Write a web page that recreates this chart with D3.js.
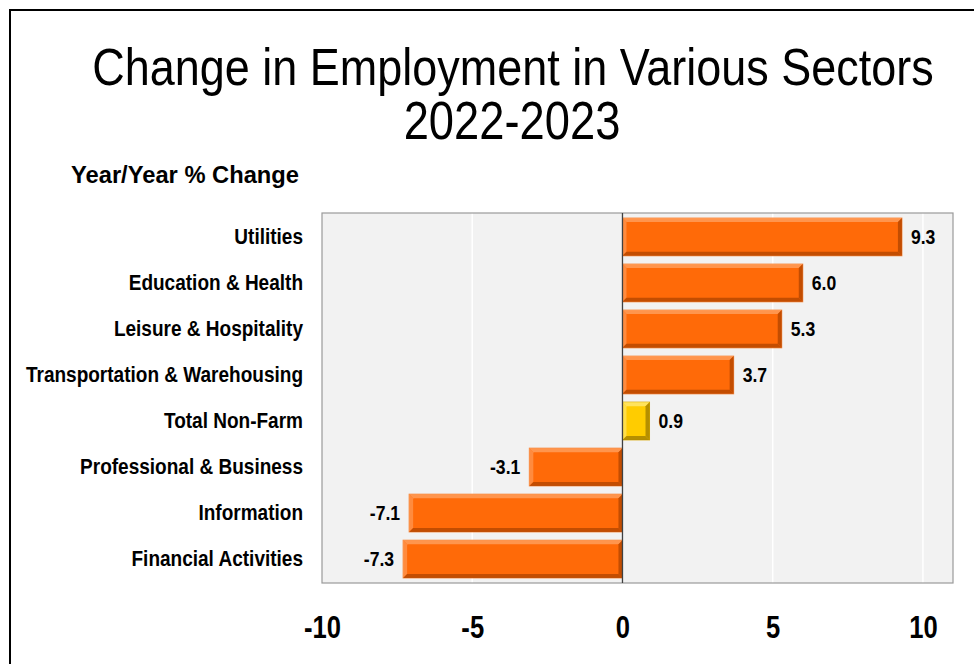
<!DOCTYPE html>
<html>
<head>
<meta charset="utf-8">
<script src="https://cdn.jsdelivr.net/npm/d3@7"></script>
<style>
  html, body { margin: 0; padding: 0; background: #fff; }
  svg { display: block; }
  text { font-family: "Liberation Sans", Arial, Helvetica, sans-serif; }
</style>
</head>
<body>
<svg id="chart" width="974" height="664"></svg>
<script>
// Sector employment change, 2022 to 2023 (percent, year over year)
const categories = [
  "Utilities",
  "Education & Health",
  "Leisure & Hospitality",
  "Transportation & Warehousing",
  "Total Non-Farm",
  "Professional & Business",
  "Information",
  "Financial Activities"
];
const values = [9.3, 6.0, 5.3, 3.7, 0.9, -3.1, -7.1, -7.3];
const highlight = ["Total Non-Farm"];
const tickValues = [-10, -5, 0, 5, 10];
const titleLines = ["Change in Employment in Various Sectors", "2022-2023"];
const axisTitle = "Year/Year % Change";

// plain hyphen for negatives, as in the printed figures
const fmt1 = v => d3.format(".1f")(v).replace("\u2212", "-");
const fmt0 = v => d3.format("d")(v).replace("\u2212", "-");

const svg = d3.select("#chart");

// outer frame
svg.append("path")
  .attr("d", "M10,674 L10,10 L984,10")
  .attr("fill", "none").attr("stroke", "#000").attr("stroke-width", 2);

// titles (condensed face)
svg.append("text")
  .attr("transform", "translate(513,85) scale(0.865,1)")
  .attr("text-anchor", "middle").attr("font-size", 52).attr("fill", "#000")
  .text(titleLines[0]);
svg.append("text")
  .attr("transform", "translate(512,139) scale(0.855,1)")
  .attr("text-anchor", "middle").attr("font-size", 53).attr("fill", "#000")
  .text(titleLines[1]);
svg.append("text").attr("x", 71).attr("y", 183)
  .attr("font-size", 23).attr("font-weight", "bold").attr("fill", "#000")
  .attr("textLength", 228).attr("lengthAdjust", "spacingAndGlyphs")
  .text(axisTitle);

const plot = { left: 322, right: 953, top: 213, bottom: 583 };

const x = d3.scaleLinear().domain([-10, 11]).range([plot.left, plot.right]);
const y = d3.scaleBand().domain(categories).range([plot.top, plot.bottom])
  .paddingInner(0.18).paddingOuter(0.11);

// plot background
svg.append("rect")
  .attr("x", plot.left).attr("y", plot.top)
  .attr("width", plot.right - plot.left).attr("height", plot.bottom - plot.top)
  .attr("fill", "#F2F2F2");

// vertical gridlines
svg.append("g").selectAll("line")
  .data(tickValues.filter(t => t !== 0 && t !== -10))
  .join("line")
  .attr("x1", d => x(d)).attr("x2", d => x(d))
  .attr("y1", plot.top).attr("y2", plot.bottom)
  .attr("stroke", "#FFFFFF").attr("stroke-width", 1.5);

svg.append("rect")
  .attr("x", plot.left).attr("y", plot.top)
  .attr("width", plot.right - plot.left).attr("height", plot.bottom - plot.top)
  .attr("fill", "none").attr("stroke", "#9A9A9A").attr("stroke-width", 1.2);

// bars with a bevelled look
const palette = {
  normal: { base: "#FF6A08", light: "#FF9A55", dark: "#B84800", edge: "#F58A40" },
  accent: { base: "#FFCC00", light: "#FFE566", dark: "#A88400", edge: "#D9A800" }
};
const bev = 4;
const bars = svg.append("g").selectAll("g")
  .data(categories.map((c, i) => ({ c, v: values[i] })))
  .join("g");

bars.each(function(d) {
  const g = d3.select(this);
  const col = highlight.includes(d.c) ? palette.accent : palette.normal;
  const x0 = x(Math.min(0, d.v)), x1 = x(Math.max(0, d.v));
  const y0 = y(d.c), y1 = y0 + y.bandwidth();
  g.append("rect").attr("x", x0).attr("y", y0)
    .attr("width", x1 - x0).attr("height", y1 - y0)
    .attr("fill", col.base).attr("stroke", col.edge).attr("stroke-width", 1);
  // top highlight
  g.append("polygon")
    .attr("points", [[x0, y0], [x1, y0], [x1 - bev, y0 + bev], [x0 + bev, y0 + bev]].join(" "))
    .attr("fill", col.light).attr("opacity", 0.9);
  // left highlight
  g.append("polygon")
    .attr("points", [[x0, y0], [x0 + bev, y0 + bev], [x0 + bev, y1 - bev], [x0, y1]].join(" "))
    .attr("fill", col.light).attr("opacity", 0.7);
  // bottom shade
  g.append("polygon")
    .attr("points", [[x0, y1], [x0 + bev, y1 - bev], [x1 - bev, y1 - bev], [x1, y1]].join(" "))
    .attr("fill", col.dark).attr("opacity", 0.85);
  // right shade
  g.append("polygon")
    .attr("points", [[x1, y0], [x1, y1], [x1 - bev, y1 - bev], [x1 - bev, y0 + bev]].join(" "))
    .attr("fill", col.dark).attr("opacity", 0.85);
});

// zero line
svg.append("line")
  .attr("x1", x(0)).attr("x2", x(0))
  .attr("y1", plot.top).attr("y2", plot.bottom)
  .attr("stroke", "#404040").attr("stroke-width", 1.3);

// value labels
bars.append("text")
  .attr("transform", d => `translate(${d.v >= 0 ? x(d.v) + 9 : x(d.v) - 9},${y(d.c) + y.bandwidth() / 2}) scale(0.88,1)`)
  .attr("dy", "0.36em")
  .attr("text-anchor", d => d.v >= 0 ? "start" : "end")
  .attr("font-size", 20).attr("font-weight", "bold").attr("fill", "#000")
  .text(d => fmt1(d.v));

// category axis
const yAxis = svg.append("g")
  .attr("transform", `translate(303,0)`)
  .call(d3.axisLeft(y).tickSize(0).tickPadding(0));
yAxis.select(".domain").remove();
yAxis.selectAll("text")
  .attr("x", 0)
  .attr("transform", "scale(0.865,1)")
  .attr("font-size", 22).attr("font-weight", "bold").attr("fill", "#000")
  .style("font-family", "'Liberation Sans', Arial, sans-serif");

// value axis
const xAxis = svg.append("g")
  .attr("transform", `translate(0,${plot.bottom})`)
  .call(d3.axisBottom(x).tickValues(tickValues).tickSize(0).tickFormat(fmt0));
xAxis.select(".domain").remove();
xAxis.selectAll("text")
  .attr("y", 55).attr("dy", 0)
  .attr("transform", "scale(0.8,1)")
  .attr("font-size", 32).attr("font-weight", "bold").attr("fill", "#000")
  .style("font-family", "'Liberation Sans', Arial, sans-serif");
</script>
</body>
</html>
